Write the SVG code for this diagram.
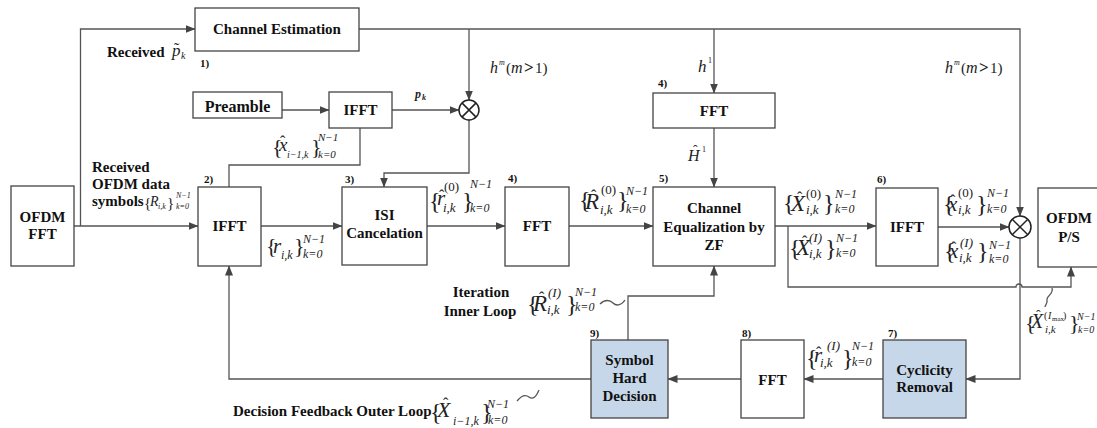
<svg xmlns="http://www.w3.org/2000/svg" width="1097" height="428" viewBox="0 0 1097 428">
<style>
.box{fill:#fff;stroke:#444;stroke-width:1.3}
.blue{fill:#c6d7e9}
.ln{fill:none;stroke:#555;stroke-width:1.3}
.lbl{font-family:"Liberation Serif",serif;font-weight:bold;font-size:15px;text-anchor:middle;fill:#111}
.txt{font-family:"Liberation Serif",serif;font-weight:bold;font-size:15px;fill:#111}
.num{font-family:"Liberation Serif",serif;font-weight:bold;font-size:11px;fill:#111}
.m{font-family:"Liberation Serif",serif;font-style:italic;fill:#222}
.u{font-style:normal}
.br{font-style:normal;font-size:24px}
.s{font-size:13px}
.t{font-size:12px}
</style>
<defs>
<marker id="ar" markerWidth="10" markerHeight="8" refX="9.5" refY="4" orient="auto" markerUnits="userSpaceOnUse">
<path d="M0,0 L10,4 L0,8 Z" fill="#444"/>
</marker>
</defs>
<rect width="1097" height="428" fill="#fff"/>

<g id="connectors">
<path class="ln" d="M74,226 H198" marker-end="url(#ar)"/>
<path class="ln" d="M80.5,226 V29 H195" marker-end="url(#ar)"/>
<path class="ln" d="M359,29 H1020 V216" marker-end="url(#ar)"/>
<path class="ln" d="M469,29 V100" marker-end="url(#ar)"/>
<path class="ln" d="M714,29 V93" marker-end="url(#ar)"/>
<path class="ln" d="M282,110 H329" marker-end="url(#ar)"/>
<path class="ln" d="M392,110 H459" marker-end="url(#ar)"/>
<path class="ln" d="M469,120 V173 H384 V187" marker-end="url(#ar)"/>
<path class="ln" d="M360,128 V165 H229 V187"/>
<path class="ln" d="M261,226 H342" marker-end="url(#ar)"/>
<path class="ln" d="M427,226 H505" marker-end="url(#ar)"/>
<path class="ln" d="M569,226 H653" marker-end="url(#ar)"/>
<path class="ln" d="M714,128 V187" marker-end="url(#ar)"/>
<path class="ln" d="M775,226 H876" marker-end="url(#ar)"/>
<path class="ln" d="M938,227 H1009" marker-end="url(#ar)"/>
<path class="ln" d="M788,226 V287 H1016 A3,3 0 0 1 1022,287 H1071 V267" marker-end="url(#ar)"/>
<path class="ln" d="M1020,238 V379 H966" marker-end="url(#ar)"/>
<path class="ln" d="M883,379 H804" marker-end="url(#ar)"/>
<path class="ln" d="M741,379 H668" marker-end="url(#ar)"/>
<path class="ln" d="M591,379 H229 V266" marker-end="url(#ar)"/>
<path class="ln" d="M628,340 V296 H714 V266" marker-end="url(#ar)"/>
<path class="ln" d="M600,304 C605,299 610,300 613,303 C616,306 621,306 625,300"/>
<path class="ln" d="M517,401 C521,396 525,394 529,397 C533,400 536,397 539,390"/>
<path class="ln" d="M1052,288 C1054,294 1046,296 1047,300 C1048,303 1045,305 1045,307"/>
</g>

<g id="mult1">
<circle cx="469" cy="110" r="10" fill="#fff" stroke="#222" stroke-width="1.5"/>
<path d="M461.9,102.9 L476.1,117.1 M476.1,102.9 L461.9,117.1" stroke="#222" stroke-width="1.5"/>
</g>
<g id="mult2">
<circle cx="1020" cy="227" r="11" fill="#fff" stroke="#222" stroke-width="1.5"/>
<path d="M1012.2,219.2 L1027.8,234.8 M1027.8,219.2 L1012.2,234.8" stroke="#222" stroke-width="1.5"/>
</g>

<g id="ofdm-fft">
<rect class="box" x="11" y="186" width="63" height="80"/>
<text class="lbl" x="42.5" y="222">OFDM</text>
<text class="lbl" x="42.5" y="239">FFT</text>
</g>
<g id="channel-estimation">
<rect class="box" x="195" y="8" width="164" height="43"/>
<text class="lbl" x="277" y="34">Channel Estimation</text>
<text class="num" x="200" y="67">1)</text>
</g>
<g id="preamble">
<rect class="box" x="193" y="92" width="89" height="26"/>
<text class="lbl" x="237.5" y="112" style="font-size:16px">Preamble</text>
</g>
<g id="ifft-top">
<rect class="box" x="329" y="92" width="63" height="36"/>
<text class="lbl" x="360.5" y="115">IFFT</text>
</g>
<g id="ifft2">
<rect class="box" x="198" y="187" width="63" height="79"/>
<text class="lbl" x="229.5" y="231">IFFT</text>
<text class="num" x="204" y="183">2)</text>
</g>
<g id="isi">
<rect class="box" x="342" y="187" width="85" height="78"/>
<text class="lbl" x="384.5" y="220">ISI</text>
<text class="lbl" x="384.5" y="238">Cancelation</text>
<text class="num" x="345" y="183">3)</text>
</g>
<g id="fft4">
<rect class="box" x="505" y="187" width="64" height="79"/>
<text class="lbl" x="537" y="231">FFT</text>
<text class="num" x="508" y="182">4)</text>
</g>
<g id="fft-top">
<rect class="box" x="653" y="93" width="122" height="35"/>
<text class="lbl" x="714" y="116">FFT</text>
<text class="num" x="658" y="87">4)</text>
</g>
<g id="channel-eq">
<rect class="box" x="653" y="187" width="122" height="79"/>
<text class="lbl" x="714" y="213">Channel</text>
<text class="lbl" x="714" y="232">Equalization by</text>
<text class="lbl" x="714" y="250">ZF</text>
<text class="num" x="659" y="182">5)</text>
</g>
<g id="ifft6">
<rect class="box" x="876" y="188" width="62" height="78"/>
<text class="lbl" x="907" y="232">IFFT</text>
<text class="num" x="877" y="183">6)</text>
</g>
<g id="ofdm-ps">
<rect class="box" x="1038" y="188" width="70" height="79"/>
<text class="lbl" x="1069" y="223">OFDM</text>
<text class="lbl" x="1069" y="242">P/S</text>
</g>
<g id="symbol-decision">
<rect class="box blue" x="591" y="340" width="77" height="78"/>
<text class="lbl" x="629.5" y="365">Symbol</text>
<text class="lbl" x="629.5" y="383">Hard</text>
<text class="lbl" x="629.5" y="401">Decision</text>
<text class="num" x="590" y="337">9)</text>
</g>
<g id="fft8">
<rect class="box" x="741" y="340" width="63" height="78"/>
<text class="lbl" x="772.5" y="385">FFT</text>
<text class="num" x="742" y="337">8)</text>
</g>
<g id="cyclicity">
<rect class="box blue" x="883" y="340" width="83" height="78"/>
<text class="lbl" x="924.5" y="375">Cyclicity</text>
<text class="lbl" x="924.5" y="392">Removal</text>
<text class="num" x="888" y="337">7)</text>
</g>

<g id="labels">
<text class="txt" x="107" y="57">Received</text>
<text class="m" style="font-size:17px"><tspan x="172" y="56">p</tspan><tspan class="u" x="174" y="54" style="font-size:16px">˜</tspan><tspan x="181" y="59" style="font-size:10px">k</tspan></text>

<text class="txt" x="92" y="172">Received</text>
<text class="txt" x="92" y="189">OFDM data</text>
<text class="txt" x="92" y="206">symbols</text>
<text class="m" style="font-size:14px"><tspan class="u" x="144" y="208" style="font-size:15px">{</tspan><tspan x="150" y="206">R</tspan><tspan x="158" y="209" style="font-size:8px">i,k</tspan><tspan class="u" x="167" y="208" style="font-size:15px">}</tspan><tspan x="176" y="198" style="font-size:8px">N−1</tspan><tspan x="176" y="209" style="font-size:8px">k=0</tspan></text>

<text class="m" style="font-weight:bold;font-size:12px"><tspan x="415" y="98">p</tspan><tspan x="422" y="100" style="font-size:8px">k</tspan></text>

<text class="m" style="font-size:16px"><tspan x="490" y="73">h</tspan><tspan x="499" y="65" style="font-size:8px">m</tspan><tspan class="u" x="506" y="73" style="font-size:15px">(</tspan><tspan x="511" y="73">m</tspan><tspan class="u" x="524" y="73" style="font-weight:bold;font-size:17px">&gt;</tspan><tspan class="u" x="535" y="73" style="font-size:15px">1)</tspan></text>
<text class="m" style="font-size:16px"><tspan x="945" y="73">h</tspan><tspan x="954" y="65" style="font-size:8px">m</tspan><tspan class="u" x="961" y="73" style="font-size:15px">(</tspan><tspan x="966" y="73">m</tspan><tspan class="u" x="979" y="73" style="font-weight:bold;font-size:17px">&gt;</tspan><tspan class="u" x="990" y="73" style="font-size:15px">1)</tspan></text>

<text class="m" style="font-size:17px"><tspan x="698" y="72">h</tspan><tspan class="u" x="708" y="63" style="font-size:8px">1</tspan></text>
<text class="m" style="font-size:16px"><tspan x="688" y="161">H</tspan><tspan class="u" x="693" y="155" style="font-size:14px">ˆ</tspan><tspan class="u" x="702" y="152" style="font-size:8px">1</tspan></text>

<text class="m" style="font-size:19px"><tspan class="u" x="272" y="154" style="font-size:22px">{</tspan><tspan x="279" y="151">x</tspan><tspan class="u" x="280" y="147" style="font-size:16px">ˆ</tspan><tspan x="287" y="158" style="font-size:10px">i−1,k</tspan><tspan class="u" x="311" y="154" style="font-size:22px">}</tspan><tspan x="318" y="141" style="font-size:11px">N−1</tspan><tspan x="318" y="158" style="font-size:11px">k=0</tspan></text>

<text class="m" style="font-size:21px"><tspan class="u" x="266" y="253" style="font-size:22px">{</tspan><tspan x="273" y="253">r</tspan><tspan x="281" y="259" style="font-size:12px">i,k</tspan><tspan class="u" x="294" y="253" style="font-size:22px">}</tspan><tspan x="303" y="243" style="font-size:12px">N−1</tspan><tspan x="303" y="258" style="font-size:12px">k=0</tspan></text>

<text class="m" style="font-size:21px"><tspan class="br" x="429" y="209">{</tspan><tspan x="437" y="205">r</tspan><tspan class="u" x="439" y="201" style="font-size:16px">ˆ</tspan><tspan class="u s" x="444" y="191">(0)</tspan><tspan class="s" x="443" y="212">i,k</tspan><tspan class="br" x="462" y="209">}</tspan><tspan class="t" x="470" y="188">N−1</tspan><tspan class="t" x="470" y="212">k=0</tspan></text>

<text class="m" style="font-size:23px"><tspan class="br" x="579" y="208">{</tspan><tspan x="585" y="209">R</tspan><tspan class="u" x="591" y="201" style="font-size:16px">ˆ</tspan><tspan class="u s" x="601" y="194">(0)</tspan><tspan class="s" x="600" y="214">i,k</tspan><tspan class="br" x="617" y="208">}</tspan><tspan class="t" x="626" y="195">N−1</tspan><tspan class="t" x="626" y="213">k=0</tspan></text>

<text class="m" style="font-size:23px"><tspan class="br" x="783" y="211">{</tspan><tspan x="791" y="211">X</tspan><tspan class="u" x="797" y="203" style="font-size:16px">ˆ</tspan><tspan class="u s" x="806" y="198">(0)</tspan><tspan class="s" x="806" y="214">i,k</tspan><tspan class="br" x="823" y="211">}</tspan><tspan class="t" x="835" y="198">N−1</tspan><tspan class="t" x="835" y="213">k=0</tspan></text>

<text class="m" style="font-size:23px"><tspan class="br" x="789" y="256">{</tspan><tspan x="796" y="255">X</tspan><tspan class="u" x="802" y="247" style="font-size:16px">ˆ</tspan><tspan class="s" x="809" y="242">(I)</tspan><tspan class="s" x="809" y="258">i,k</tspan><tspan class="br" x="825" y="256">}</tspan><tspan class="t" x="836" y="242">N−1</tspan><tspan class="t" x="836" y="257">k=0</tspan></text>

<text class="m" style="font-size:21px"><tspan class="br" x="943" y="212">{</tspan><tspan x="948" y="211">x</tspan><tspan class="u" x="950" y="206" style="font-size:16px">ˆ</tspan><tspan class="u s" x="958" y="197">(0)</tspan><tspan class="s" x="958" y="214">i,k</tspan><tspan class="br" x="976" y="212">}</tspan><tspan class="t" x="987" y="197">N−1</tspan><tspan class="t" x="987" y="213">k=0</tspan></text>

<text class="m" style="font-size:21px"><tspan class="br" x="944" y="259">{</tspan><tspan x="949" y="258">x</tspan><tspan class="u" x="951" y="253" style="font-size:16px">ˆ</tspan><tspan class="s" x="960" y="247">(I)</tspan><tspan class="s" x="959" y="262">i,k</tspan><tspan class="br" x="977" y="259">}</tspan><tspan class="t" x="989" y="249">N−1</tspan><tspan class="t" x="989" y="263">k=0</tspan></text>

<text class="txt" x="481" y="297" text-anchor="middle">Iteration</text>
<text class="txt" x="480" y="316" text-anchor="middle">Inner Loop</text>
<text class="m" style="font-size:23px"><tspan class="br" x="527" y="312">{</tspan><tspan x="533" y="311">R</tspan><tspan class="u" x="539" y="303" style="font-size:16px">ˆ</tspan><tspan class="s" x="548" y="297">(I)</tspan><tspan class="s" x="547" y="314">i,k</tspan><tspan class="br" x="566" y="312">}</tspan><tspan class="t" x="575" y="296">N−1</tspan><tspan class="t" x="575" y="311">k=0</tspan></text>

<text class="m" style="font-size:21px"><tspan class="br" x="806" y="366">{</tspan><tspan x="814" y="362">r</tspan><tspan class="u" x="816" y="358" style="font-size:16px">ˆ</tspan><tspan class="s" x="827" y="350">(I)</tspan><tspan class="s" x="820" y="367">i,k</tspan><tspan class="br" x="842" y="366">}</tspan><tspan class="t" x="852" y="350">N−1</tspan><tspan class="t" x="852" y="366">k=0</tspan></text>

<text class="m" style="font-size:20px"><tspan class="u" x="1025" y="330" style="font-size:22px">{</tspan><tspan x="1031" y="328">X</tspan><tspan class="u" x="1036" y="320" style="font-size:14px">ˆ</tspan><tspan class="u" x="1044" y="319" style="font-size:10px">(</tspan><tspan x="1048" y="319" style="font-size:10px">I</tspan><tspan class="u" x="1052" y="321" style="font-size:7px">max</tspan><tspan class="u" x="1063" y="319" style="font-size:10px">)</tspan><tspan x="1045" y="333" style="font-size:11px">i,k</tspan><tspan class="u" x="1069" y="330" style="font-size:22px">}</tspan><tspan x="1077" y="320" style="font-size:10px">N−1</tspan><tspan x="1078" y="333" style="font-size:10px">k=0</tspan></text>

<text class="txt" x="233" y="416">Decision Feedback Outer Loop</text>
<text class="m" style="font-size:22px"><tspan class="br" x="430" y="420">{</tspan><tspan x="437" y="417">X</tspan><tspan class="u" x="443" y="409" style="font-size:16px">ˆ</tspan><tspan class="t" x="453" y="425">i−1,k</tspan><tspan class="br" x="481" y="420">}</tspan><tspan class="t" x="487" y="408">N−1</tspan><tspan class="t" x="488" y="424">k=0</tspan></text>
</g>
</svg>
